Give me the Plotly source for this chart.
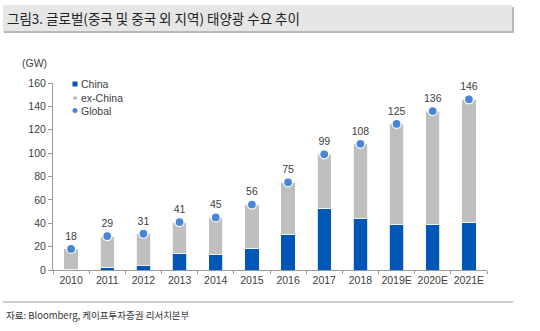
import plotly.graph_objects as go

years = ["2010", "2011", "2012", "2013", "2014", "2015", "2016", "2017",
         "2018", "2019E", "2020E", "2021E"]
global_gw = [18, 29, 31, 41, 45, 56, 75, 99, 108, 125, 136, 146]
china_gw = [0.5, 2.5, 3.5, 14, 13.5, 18.5, 30.5, 53, 44, 38.7, 39.3, 41]
ex_china_gw = [g - c for g, c in zip(global_gw, china_gw)]

series_names = ["China", "ex-China", "Global"]
CHINA_C, EX_C, GLOBAL_C = "#0057B8", "#BFBFBF", "#4A86D6"

W, H = 540, 331
L, R, T, B = 53, 53, 83, 61
PW, PH = W - L - R, H - T - B

def px(x):
    return (x - L) / PW

def py(y):
    return (H - B - y) / PH

KR = "Noto Sans CJK KR, sans-serif"
LAT = "Liberation Sans, Arial, sans-serif"
TXT = "#404040"

fig = go.Figure()
fig.add_bar(x=years, y=china_gw, name=series_names[0],
            marker=dict(color=CHINA_C, line=dict(color="white", width=0.8)))
fig.add_bar(x=years, y=ex_china_gw, name=series_names[1],
            marker=dict(color=EX_C, line=dict(color="white", width=0.8)))
fig.add_scatter(x=years, y=global_gw, name=series_names[2], mode="markers+text",
                text=[str(v) for v in global_gw], textposition="top center",
                textfont=dict(size=10.5, color=TXT, family=LAT),
                marker=dict(color=GLOBAL_C, size=9, line=dict(color="white", width=1.2)),
                cliponaxis=False)

shapes = [
    # title banner with a soft bottom shadow
    dict(type="rect", xref="paper", yref="paper", x0=px(4), x1=px(514), y0=py(33), y1=py(7),
         fillcolor="#B8B8B8", line=dict(width=0), layer="below"),
    dict(type="rect", xref="paper", yref="paper", x0=px(3), x1=px(512), y0=py(31), y1=py(5),
         fillcolor="#E6E6E6", line=dict(width=0), layer="below"),
    # separator above source note
    dict(type="line", xref="paper", yref="paper", x0=px(3), x1=px(513), y0=py(302), y1=py(302),
         line=dict(color="#9A9A9A", width=1)),
    # legend swatches
    dict(type="rect", xref="paper", yref="paper", x0=px(72.5), x1=px(77.5), y0=py(86.5), y1=py(81.5),
         fillcolor=CHINA_C, line=dict(width=0)),
    dict(type="rect", xref="paper", yref="paper", x0=px(73), x1=px(77), y0=py(99.5), y1=py(96.5),
         fillcolor=EX_C, line=dict(width=0)),
    dict(type="circle", xref="paper", yref="paper", x0=px(72.5), x1=px(77.5), y0=py(113), y1=py(108),
         fillcolor=GLOBAL_C, line=dict(width=0)),
]

annotations = [
    dict(text="그림3. 글로벌(중국 및 중국 외 지역) 태양광 수요 추이", xref="paper", yref="paper",
         x=px(5), y=py(18.5), xanchor="left", yanchor="middle", showarrow=False,
         font=dict(size=13.5, color="#222222", family=KR)),
    dict(text="(GW)", xref="paper", yref="paper", x=px(49), y=py(63),
         xanchor="right", yanchor="middle", showarrow=False,
         font=dict(size=10.5, color=TXT, family=LAT)),
    dict(text="자료: Bloomberg, 케이프투자증권 리서치본부", xref="paper", yref="paper",
         x=px(4), y=py(315), xanchor="left", yanchor="middle", showarrow=False,
         font=dict(size=9.5, color="#333333", family=KR)),
]
for name, yc in zip(series_names, [84, 98, 111]):
    annotations.append(dict(text=name, xref="paper", yref="paper", x=px(79), y=py(yc),
                            xanchor="left", yanchor="middle", showarrow=False,
                            font=dict(size=10.5, color=TXT, family=LAT)))

fig.update_layout(
    width=W, height=H, barmode="stack", bargap=0.6,
    margin=dict(l=L, r=R, t=T, b=B),
    paper_bgcolor="white", plot_bgcolor="white",
    font=dict(family=LAT, color=TXT, size=11),
    showlegend=False,
    shapes=shapes, annotations=annotations,
    xaxis=dict(type="category", range=[-0.5, 11.5], showline=True, linecolor="#999999",
               linewidth=1, ticks="outside", ticklen=3, tickcolor="#999999",
               tickson="boundaries", tickangle=0, showgrid=False,
               tickfont=dict(size=10.5, color=TXT, family=LAT)),
    yaxis=dict(range=[0, 160], dtick=20, showline=True, linecolor="#999999", linewidth=1,
               ticks="outside", ticklen=4, tickcolor="#999999", showgrid=False,
               zeroline=False, tickfont=dict(size=10.5, color=TXT, family=LAT)),
)

fig.write_html("out.html")
